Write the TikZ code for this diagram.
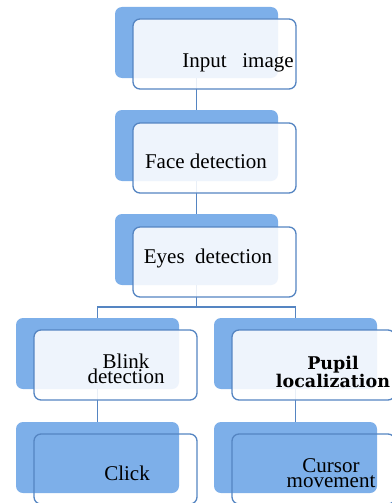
\documentclass[tikz,border=0pt]{standalone}
\usepackage{fontspec}
\setmainfont{Liberation Serif}
\newfontfamily\pupilfont{DejaVu Serif}
\usepackage{tikz}
\usetikzlibrary{backgrounds}
\definecolor{backblue}{HTML}{7DAFE9}
\definecolor{edgeblue}{HTML}{5585C2}

\begin{document}
\begin{tikzpicture}[x=1pt,y=-1pt,
    backbox/.style={fill=backblue, rounded corners=7pt, minimum width=163pt, minimum height=71pt, inner sep=0pt},
    frontbox/.style={draw=edgeblue, line width=1.3pt, rounded corners=7pt, minimum width=163pt, minimum height=70pt, inner sep=0pt},
    filledbox/.style={frontbox, fill=white, fill opacity=0.87},
    conn/.style={draw=edgeblue, line width=1.3pt},
    txt/.style={anchor=base, font=\fontsize{21}{15}\selectfont, align=center, inner sep=0pt}]
    \useasboundingbox (0,0) rectangle (391,503);
    \coordinate (split) at (196.5,307);
    \node[backbox] (inputback) at (196.5,42.5) {};
    \node[backbox] (faceback) at (196.5,145.5) {};
    \node[backbox] (eyesback) at (196.5,249.5) {};
    \node[backbox] (blinkback) at (97.5,353.5) {};
    \node[backbox] (pupilback) at (295.5,353.5) {};
    \node[backbox] (clickback) at (97.5,457.5) {};
    \node[backbox] (cursorback) at (295.5,457.5) {};
    \begin{pgfonlayer}{background}
    \draw[conn] (inputback.center) -- (faceback.center);
    \draw[conn] (faceback.center) -- (eyesback.center);
    \draw[conn] (eyesback.center) -- (split);
    \draw[conn] (blinkback.center) |- (split) -| (pupilback.center);
    \draw[conn] (blinkback.center) -- (clickback.center);
    \draw[conn] (pupilback.center) -- (cursorback.center);
    \end{pgfonlayer}
    \node[filledbox] (input) at (214.5,54) {};
    \node[filledbox] (face) at (214.5,158) {};
    \node[filledbox] (eyes) at (214.5,262) {};
    \node[filledbox] (blink) at (115.5,365) {};
    \node[filledbox] (pupil) at (313.5,365) {};
    \node[frontbox] (click) at (115.5,469) {};
    \node[frontbox] (cursor) at (313.5,469) {};
    \node[txt] (inputtxt) at (238,67) {Input\ \ \ image};
    \node[txt] (facetxt) at (206,168) {Face detection};
    \node[txt] (eyestxt) at (208,263) {Eyes\ \ detection};
    \node[txt] (blinktxt) at (126,383) {Blink\\detection};
    \node[txt, font=\fontsize{17.5}{15}\selectfont\pupilfont\bfseries] (pupiltxt) at (333,387) {Pupil\\localization};
    \node[txt] (clicktxt) at (127,480) {Click};
    \node[txt] (cursortxt) at (331,487) {Cursor\\movement};
\end{tikzpicture}
\end{document}
